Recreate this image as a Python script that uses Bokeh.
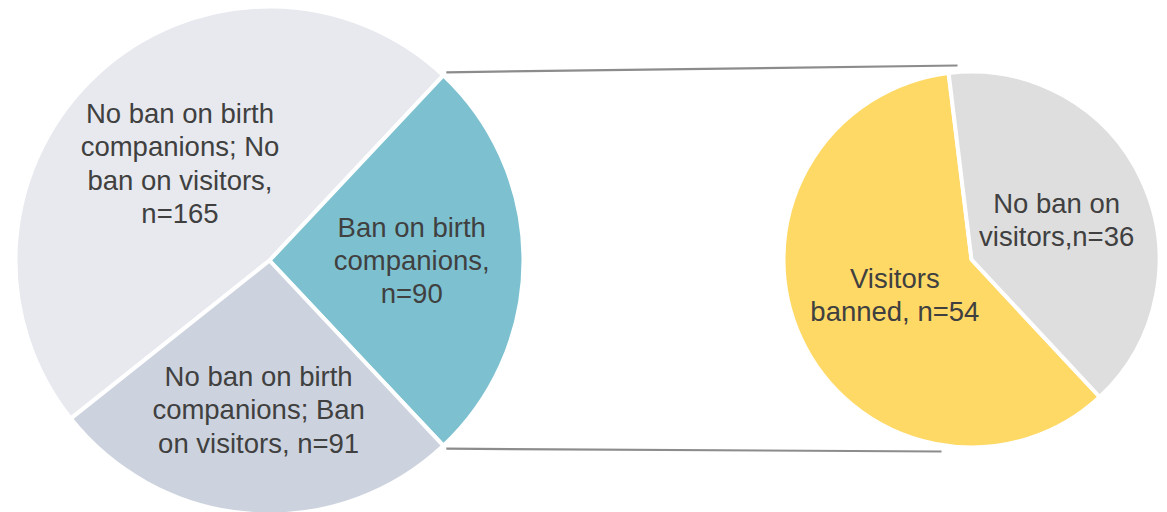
import math
from bokeh.plotting import figure
from bokeh.models import Range1d, ColumnDataSource
from bokeh.core.properties import value
from bokeh.embed import file_html
from bokeh.resources import INLINE

# ---- data ----
main_labels = [
    "No ban on birth\ncompanions; No\nban on visitors,\nn=165",
    "Ban on birth\ncompanions,\nn=90",
    "No ban on birth\ncompanions; Ban\non visitors, n=91",
]
main_values = [165, 90, 91]
sub_labels = ["Visitors\nbanned, n=54", "No ban on\nvisitors,n=36"]
sub_values = [54, 36]

# ---- style / layout ----
W, H = 1167, 512
main_colors = ["#E7E9EE", "#7DC1D0", "#CDD3DE"]
sub_colors = ["#FFD966", "#DEDEDE"]
main_center = (269, 252)
main_r = 254
sub_center = (971, 253)
sub_r = 188
main_label_frac = [0.52, 0.56, 0.59]
sub_label_frac = [0.45, 0.50]
sub_start_deg = 97.0
text_color = "#404040"
font = value("Liberation Sans")
fsize = "27.5px"
lh = 1.08

p = figure(width=W, height=H, x_range=Range1d(0, W), y_range=Range1d(0, H),
           output_backend="svg", toolbar_location=None, min_border=0,
           outline_line_color=None, background_fill_color="white")
p.axis.visible = False
p.xgrid.visible = False
p.ygrid.visible = False

# main pie: order anticlockwise starting with the "ban" slice centered at 0 deg
order = [1, 0, 2]
total = sum(main_values)
half = math.pi * main_values[1] / total
starts, ends, mids = {}, {}, {}
a = -half
for i in order:
    sweep = 2 * math.pi * main_values[i] / total
    starts[i], ends[i] = a, a + sweep
    mids[i] = a + sweep / 2
    a += sweep
src = ColumnDataSource(dict(
    x=[main_center[0]] * 3, y=[main_center[1]] * 3,
    s=[starts[i] for i in range(3)], e=[ends[i] for i in range(3)],
    c=main_colors))
p.wedge(x="x", y="y", radius=main_r, start_angle="s", end_angle="e",
        fill_color="c", line_color="white", line_width=4, source=src)

lx = [main_center[0] + main_label_frac[i] * main_r * math.cos(mids[i]) for i in range(3)]
ly = [main_center[1] + main_label_frac[i] * main_r * math.sin(mids[i]) for i in range(3)]
p.text(x=lx, y=ly, text=main_labels, text_font=font, text_font_size=fsize,
       text_color=text_color, text_align="center", text_baseline="middle",
       text_line_height=lh)

# sub pie
stot = sum(sub_values)
a = math.radians(sub_start_deg)
ss, se, sm = [], [], []
for v in sub_values:
    sweep = 2 * math.pi * v / stot
    ss.append(a); se.append(a + sweep); sm.append(a + sweep / 2)
    a += sweep
p.wedge(x=[sub_center[0]] * 2, y=[sub_center[1]] * 2, radius=sub_r,
        start_angle=ss, end_angle=se, fill_color=sub_colors,
        line_color="white", line_width=4)
sx = [sub_center[0] + sub_label_frac[i] * sub_r * math.cos(sm[i]) for i in range(2)]
sy = [sub_center[1] + sub_label_frac[i] * sub_r * math.sin(sm[i]) for i in range(2)]
p.text(x=sx, y=sy, text=sub_labels, text_font=font, text_font_size=fsize,
       text_color=text_color, text_align="center", text_baseline="middle",
       text_line_height=lh)

# connector lines from the "ban" slice edges to the sub pie
x0t = main_center[0] + main_r * math.cos(half) + 3
y0t = main_center[1] + main_r * math.sin(half) + 3
x0b = main_center[0] + main_r * math.cos(-half) + 3
y0b = main_center[1] + main_r * math.sin(-half) - 3
x1t, y1t = sub_center[0] - 14, sub_center[1] + sub_r + 6
x1b, y1b = sub_center[0] - 30, sub_center[1] - sub_r - 4
p.segment(x0=[x0t, x0b], y0=[y0t, y0b], x1=[x1t, x1b], y1=[y1t, y1b],
          line_color="#8C8C8C", line_width=2.2)

open("out.html", "w").write(file_html(p, INLINE))
